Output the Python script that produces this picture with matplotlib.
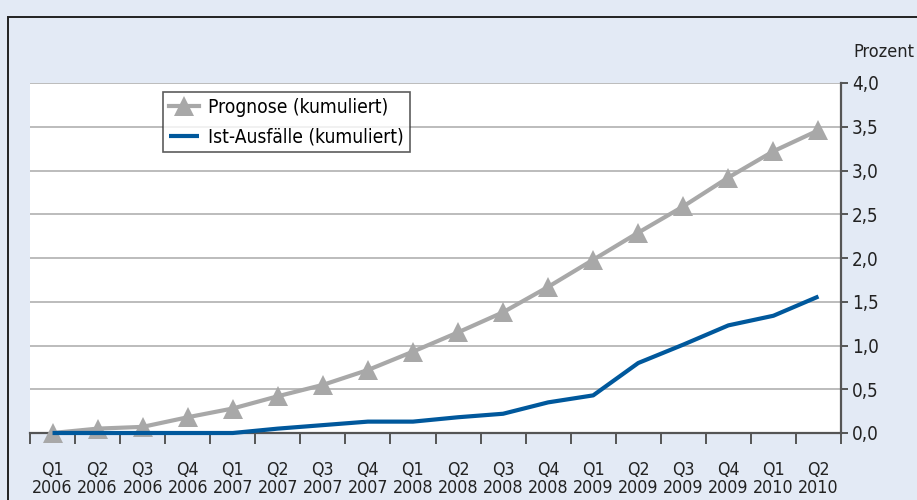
import matplotlib
matplotlib.use("Agg")
import matplotlib.pyplot as plt
from matplotlib.patches import Rectangle
from matplotlib.ticker import FixedLocator, FuncFormatter
import numpy as np

quarters = ["Q1", "Q2", "Q3", "Q4", "Q1", "Q2", "Q3", "Q4", "Q1", "Q2", "Q3", "Q4",
            "Q1", "Q2", "Q3", "Q4", "Q1", "Q2"]
years = ["2006", "2006", "2006", "2006", "2007", "2007", "2007", "2007", "2008", "2008",
         "2008", "2008", "2009", "2009", "2009", "2009", "2010", "2010"]
prognose = [0.00, 0.05, 0.07, 0.18, 0.28, 0.42, 0.55, 0.72, 0.93, 1.15, 1.38, 1.67,
            1.98, 2.29, 2.59, 2.92, 3.22, 3.46]
ist = [0.00, 0.00, 0.00, 0.00, 0.00, 0.05, 0.09, 0.13, 0.13, 0.18, 0.22, 0.35,
       0.43, 0.80, 1.01, 1.23, 1.34, 1.56]
yticks = [0.0, 0.5, 1.0, 1.5, 2.0, 2.5, 3.0, 3.5, 4.0]

W, H = 917, 500
bg = "#e3eaf5"
plt.rcParams["font.family"] = ["Liberation Sans Narrow", "DejaVu Sans"]
plt.rcParams["font.stretch"] = "condensed"

fig = plt.figure(figsize=(W / 100, H / 100), dpi=100, facecolor=bg)
fig.patches.append(Rectangle((8 / W, -0.1), 1.2, (H - 17) / H + 0.1, transform=fig.transFigure,
                             fill=False, edgecolor="#222222", linewidth=1.4))

ax = fig.add_axes([30 / W, (H - 433) / H, (841 - 30) / W, (433 - 83) / H])
ax.set_facecolor("white")
x = np.arange(len(quarters))
ax.set_xlim(-0.5, len(quarters) - 0.5)
ax.set_ylim(0, 4.0)

for yv in yticks[1:]:
    ax.axhline(yv, color="#b0b0b0", linewidth=1.2, zorder=1)

ax.plot(x, prognose, color="#a8a8a8", linewidth=3, marker="^", markersize=14,
        markeredgewidth=0, label="Prognose (kumuliert)", zorder=3, clip_on=False)
ax.plot(x, ist, color="#00589c", linewidth=3, label="Ist-Ausfälle (kumuliert)", zorder=4,
        solid_capstyle="butt", clip_on=False)

for s in ["top", "left"]:
    ax.spines[s].set_visible(False)
for s in ["bottom", "right"]:
    ax.spines[s].set_color("#555555")
    ax.spines[s].set_linewidth(1.6)

ax.yaxis.tick_right()
ax.set_yticks(yticks)
ax.yaxis.set_major_formatter(FuncFormatter(lambda v, p: f"{v:.1f}".replace(".", ",")))
ax.tick_params(axis="y", direction="out", length=5, width=1.4, color="#555555",
               labelsize=13.5, pad=3, labelcolor="#222222")

ax.xaxis.set_major_locator(FixedLocator(np.arange(-0.5, len(quarters), 1.0)))
ax.xaxis.set_major_formatter(FuncFormatter(lambda v, p: ""))
ax.xaxis.set_minor_locator(FixedLocator(x))
ax.set_xticklabels([f"{q}\n{y}" for q, y in zip(quarters, years)], minor=True)
ax.tick_params(axis="x", which="major", direction="out", length=8, width=1.4, color="#555555")
ax.tick_params(axis="x", which="minor", length=0, labelsize=12.8, pad=20,
               labelcolor="#222222")
for lab in ax.get_xticklabels(minor=True):
    lab.set_linespacing(1.0)

fig.text(853 / W, (H - 52) / H, "Prozent", fontsize=13, color="#222222",
         ha="left", va="center")

leg = ax.legend(loc="upper left", bbox_to_anchor=((163 - 30) / (841 - 30), (433 - 92) / 350),
                borderaxespad=0, frameon=True, fancybox=False, fontsize=13.8,
                handlelength=1.6, borderpad=0.3, labelspacing=0.55, handletextpad=0.45)
leg.get_frame().set_edgecolor("#333333")
leg.get_frame().set_linewidth(1.2)

fig.savefig("out.png", dpi=100, facecolor=bg)
